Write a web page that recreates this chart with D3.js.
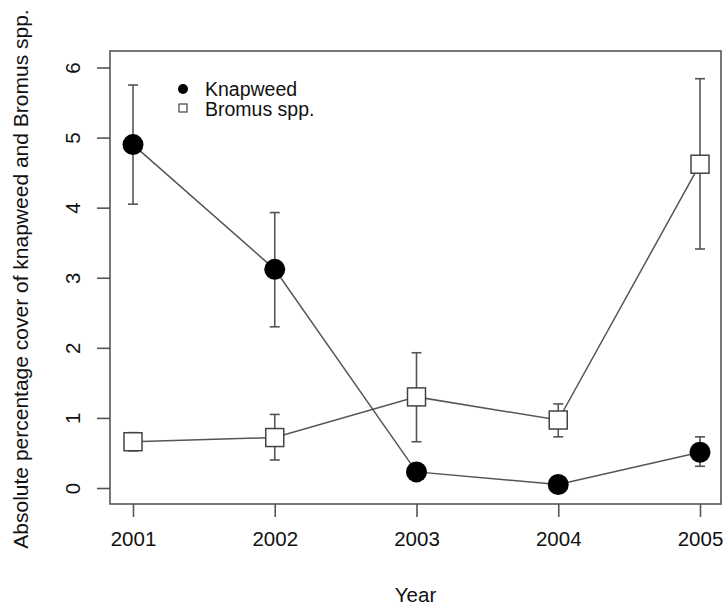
<!DOCTYPE html>
<html>
<head>
<meta charset="utf-8">
<script src="https://cdn.jsdelivr.net/npm/d3@7"></script>
<style>
  body { margin: 0; background: #fff; }
  text { font-family: "Liberation Sans", Arial, sans-serif; fill: #111; }
</style>
</head>
<body>
<div id="chart"></div>
<script>
// data
const years = [2001, 2002, 2003, 2004, 2005];
const knapweed = [4.9, 3.12, 0.23, 0.05, 0.51];
const knapweedLow = [4.05, 2.3, 0.23, 0.05, 0.31];
const knapweedHigh = [5.75, 3.93, 0.23, 0.05, 0.73];
const bromus = [0.66, 0.72, 1.3, 0.97, 4.62];
const bromusLow = [0.53, 0.40, 0.66, 0.73, 3.41];
const bromusHigh = [0.79, 1.05, 1.93, 1.2, 5.84];
const yTicks = [0, 1, 2, 3, 4, 5, 6];

const width = 725, height = 607;
const box = { left: 110, right: 721, top: 51, bottom: 504 };

const svg = d3.select('#chart').append('svg')
    .attr('width', width)
    .attr('height', height);

const x = d3.scalePoint()
    .domain(years)
    .range([133, 700]);

const y = d3.scaleLinear()
    .domain([0, 6])
    .range([488, 67.5]);

// frame
svg.append('rect')
    .attr('x', box.left)
    .attr('y', box.top)
    .attr('width', box.right - box.left)
    .attr('height', box.bottom - box.top)
    .attr('fill', 'none')
    .attr('stroke', '#555')
    .attr('stroke-width', 1.6);

// axes
const yAxis = svg.append('g')
    .attr('transform', `translate(${box.left},0)`)
    .call(d3.axisLeft(y).tickValues(yTicks).tickSize(13).tickFormat(d3.format('d')));
yAxis.select('.domain').remove();
yAxis.selectAll('line').attr('stroke', '#555').attr('stroke-width', 1.6);
// labels parallel to the axis, like R's default
yAxis.selectAll('text')
    .attr('font-size', 20.5)
    .attr('x', 0)
    .attr('y', 0)
    .attr('dy', 0)
    .attr('text-anchor', 'middle')
    .attr('transform', 'translate(-30,0) rotate(-90)');

const xAxis = svg.append('g')
    .attr('transform', `translate(0,${box.bottom})`)
    .call(d3.axisBottom(x).tickSize(13).tickPadding(14).tickFormat(d3.format('d')));
xAxis.select('.domain').remove();
xAxis.selectAll('line').attr('stroke', '#555').attr('stroke-width', 1.6);
xAxis.selectAll('text').attr('font-size', 20.5);

// axis titles
svg.append('text')
    .attr('x', (box.left + box.right) / 2)
    .attr('y', 602)
    .attr('text-anchor', 'middle')
    .attr('font-size', 20.5)
    .text('Year');

svg.append('text')
    .attr('transform', `translate(28, 279) rotate(-90)`)
    .attr('text-anchor', 'middle')
    .attr('font-size', 21)
    .text('Absolute percentage cover of knapweed and Bromus spp.');

// lines
const line = d3.line()
    .x((d, i) => x(years[i]))
    .y(d => y(d));

svg.append('path')
    .datum(knapweed)
    .attr('d', line)
    .attr('fill', 'none')
    .attr('stroke', '#555')
    .attr('stroke-width', 1.5);

svg.append('path')
    .datum(bromus)
    .attr('d', line)
    .attr('fill', 'none')
    .attr('stroke', '#555')
    .attr('stroke-width', 1.5);

// error bars
function errorBars(lows, highs) {
    const g = svg.append('g')
        .attr('stroke', '#555')
        .attr('stroke-width', 1.6);
    years.forEach((yr, i) => {
        if (highs[i] - lows[i] < 0.01) return;
        const cx = x(yr);
        g.append('line').attr('x1', cx).attr('x2', cx).attr('y1', y(lows[i])).attr('y2', y(highs[i]));
        g.append('line').attr('x1', cx - 5).attr('x2', cx + 5).attr('y1', y(lows[i])).attr('y2', y(lows[i]));
        g.append('line').attr('x1', cx - 5).attr('x2', cx + 5).attr('y1', y(highs[i])).attr('y2', y(highs[i]));
    });
}
errorBars(knapweedLow, knapweedHigh);
errorBars(bromusLow, bromusHigh);

// points
svg.selectAll('.knap')
    .data(knapweed)
    .enter()
    .append('circle')
    .attr('class', 'knap')
    .attr('cx', (d, i) => x(years[i]))
    .attr('cy', d => y(d))
    .attr('r', 10.5)
    .attr('fill', '#000');

svg.selectAll('.brom')
    .data(bromus)
    .enter()
    .append('rect')
    .attr('class', 'brom')
    .attr('x', (d, i) => x(years[i]) - 9)
    .attr('y', d => y(d) - 9)
    .attr('width', 18)
    .attr('height', 18)
    .attr('fill', '#fff')
    .attr('stroke', '#444')
    .attr('stroke-width', 1.5);

// legend
const legend = svg.append('g');
legend.append('circle')
    .attr('cx', 183).attr('cy', 89).attr('r', 5).attr('fill', '#000');
legend.append('rect')
    .attr('x', 179).attr('y', 104).attr('width', 8).attr('height', 8)
    .attr('fill', '#fff').attr('stroke', '#444').attr('stroke-width', 1.2);
legend.append('text')
    .attr('x', 205).attr('y', 95.5).attr('font-size', 19.5).text('Knapweed');
legend.append('text')
    .attr('x', 205).attr('y', 115.5).attr('font-size', 19.5).text('Bromus spp.');
</script>
</body>
</html>
